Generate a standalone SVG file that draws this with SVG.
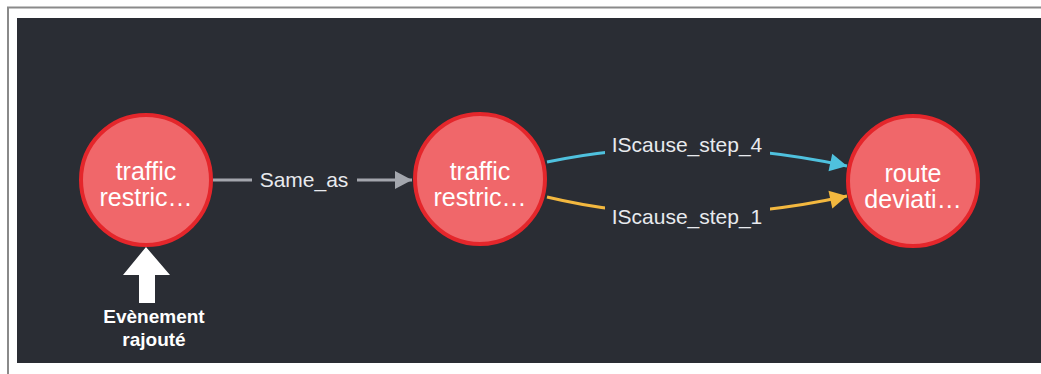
<svg xmlns="http://www.w3.org/2000/svg" width="1041" height="374" viewBox="0 0 1041 374">
  <style>
    .node circle { fill: #f0676a; stroke: #e4262b; stroke-width: 4; }
    .ntext { font-family: "Liberation Sans", Arial, sans-serif; font-size: 25px; fill: #ffffff; text-anchor: middle; }
    .elabel { font-family: "Liberation Sans", Arial, sans-serif; font-size: 21px; fill: #e8eaee; text-anchor: middle; }
    .lblbg { fill: #2a2d34; }
    .note { font-family: "Liberation Sans", Arial, sans-serif; font-size: 19px; font-weight: bold; fill: #ffffff; text-anchor: middle; }
  </style>
  <defs>
    <marker id="arrGray" markerUnits="userSpaceOnUse" markerWidth="20" markerHeight="20" refX="18" refY="10" orient="auto">
      <path d="M1,1 L18,10 L1,19 Z" fill="#a3a6ad"/>
    </marker>
    <marker id="arrCyan" markerUnits="userSpaceOnUse" markerWidth="20" markerHeight="20" refX="18" refY="10" orient="auto">
      <path d="M1,1 L18,10 L1,19 Z" fill="#4fc1de"/>
    </marker>
    <marker id="arrYellow" markerUnits="userSpaceOnUse" markerWidth="20" markerHeight="20" refX="18" refY="10" orient="auto">
      <path d="M1,1 L18,10 L1,19 Z" fill="#f3b83f"/>
    </marker>
  </defs>
  <rect x="0" y="0" width="1041" height="374" fill="#ffffff"/>
  <path d="M8,374 L8,7.5 L1041,7.5" fill="none" stroke="#8a8a8a" stroke-width="2"/>
  <rect x="17" y="18" width="1024" height="345" fill="#2a2d34"/>

  <g id="connectors">
    <g id="edge-same-as">
      <path d="M213,180 L412,180" fill="none" stroke="#a3a6ad" stroke-width="3" marker-end="url(#arrGray)"/>
      <rect class="lblbg" x="252" y="168" width="105" height="24"/>
      <text class="elabel" x="304" y="187">Same_as</text>
    </g>
    <g id="edge-step4">
      <path d="M547,162 Q688,132 847,166" fill="none" stroke="#4fc1de" stroke-width="3" marker-end="url(#arrCyan)"/>
      <rect class="lblbg" x="605" y="133" width="165" height="26"/>
      <text class="elabel" x="687" y="152">IScause_step_4</text>
    </g>
    <g id="edge-step1">
      <path d="M547,197 Q688,231 847,196" fill="none" stroke="#f3b83f" stroke-width="3" marker-end="url(#arrYellow)"/>
      <rect class="lblbg" x="605" y="204" width="165" height="26"/>
      <text class="elabel" x="687" y="224">IScause_step_1</text>
    </g>
  </g>

  <g id="node1" class="node">
    <circle cx="146" cy="180" r="65"/>
    <text class="ntext" x="146" y="180">traffic</text>
    <text class="ntext" x="146" y="206">restric…</text>
  </g>
  <g id="node2" class="node">
    <circle cx="480" cy="179" r="65"/>
    <text class="ntext" x="480" y="180">traffic</text>
    <text class="ntext" x="480" y="206">restric…</text>
  </g>
  <g id="node3" class="node">
    <circle cx="913" cy="181" r="65"/>
    <text class="ntext" x="913" y="182">route</text>
    <text class="ntext" x="913" y="208">deviati…</text>
  </g>

  <g id="annotation">
    <path d="M146,247 L170,275 L155,275 L155,303 L139,303 L139,275 L123,275 Z" fill="#ffffff"/>
    <text class="note" x="154" y="323">Evènement</text>
    <text class="note" x="154" y="346">rajouté</text>
  </g>
</svg>
